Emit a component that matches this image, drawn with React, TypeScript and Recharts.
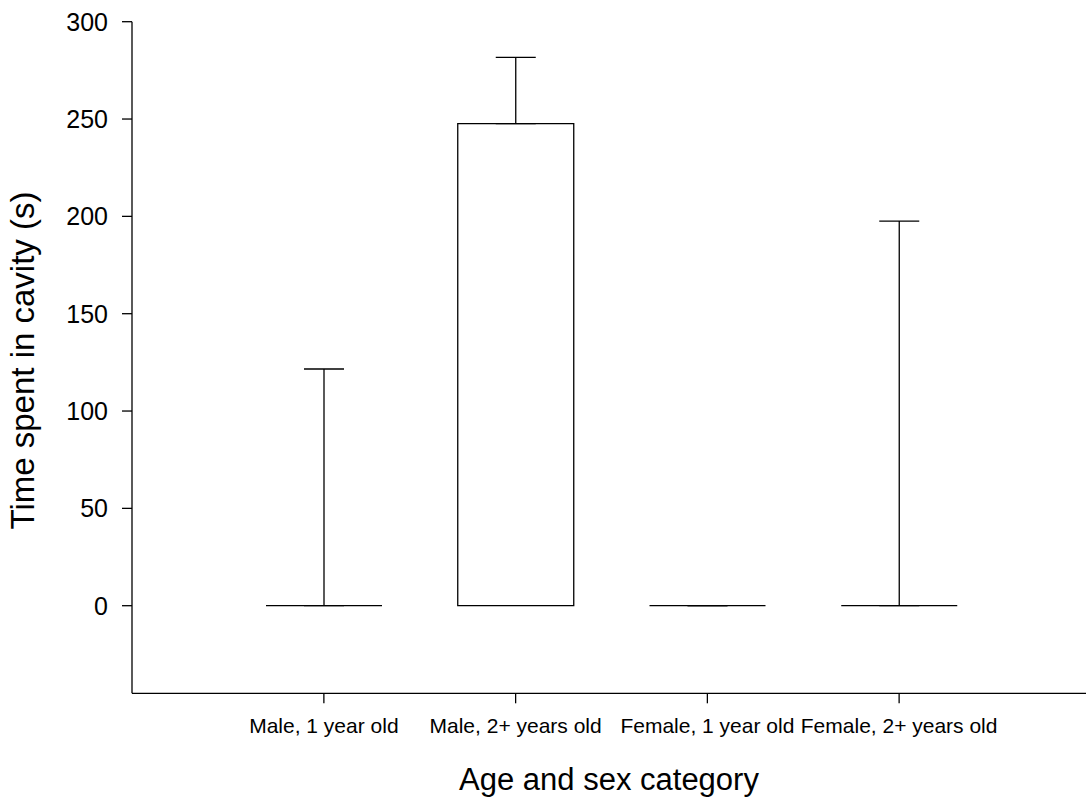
import React from 'react';
import { BarChart, Bar, XAxis, YAxis, ErrorBar } from 'recharts';

const categories = ['Male, 1 year old', 'Male, 2+ years old', 'Female, 1 year old', 'Female, 2+ years old'];
const means = [0, 247.6, 0, 0];
const upperErrors = [121.6, 34.1, 0, 197.6];
const yTicks = [0, 50, 100, 150, 200, 250, 300];

const data = categories.map((c, i) => ({ name: c, value: means[i], err: [0, upperErrors[i]] }));

const FONT = '"Liberation Sans", Arial, sans-serif';

const BarShape = (props: any) => {
  const { x, y, width, height } = props;
  const d = `M${x},${y + height} L${x},${y} L${x + width},${y} L${x + width},${y + height} Z`;
  return <path d={d} fill="#ffffff" stroke="#000000" strokeWidth={1.3} />;
};

export default function App() {
  return (
    <div style={{ width: 1086, height: 800, background: '#fff' }}>
      <style>{`body{margin:0;}`}</style>
      <BarChart
        width={1086}
        height={800}
        data={data}
        margin={{ top: 21.7, right: 0, left: 0, bottom: 0 }}
        barSize={116}
      >
        <XAxis
          dataKey="name"
          height={106.7}
          padding={{ left: 96, right: 91 }}
          tickSize={10}
          tickMargin={15}
          axisLine={{ stroke: '#000', strokeWidth: 1.3 }}
          tickLine={{ stroke: '#000', strokeWidth: 1.3 }}
          tick={{ fill: '#000', fontSize: 21, fontFamily: FONT }}
          interval={0}
          label={{ value: 'Age and sex category', position: 'insideBottom', offset: 10, style: { fill: '#000', fontSize: 31, fontFamily: FONT } }}
        />
        <YAxis
          width={132}
          domain={[-45, 300]}
          ticks={yTicks}
          type="number"
          allowDataOverflow
          tickSize={10}
          tickMargin={14}
          axisLine={{ stroke: '#000', strokeWidth: 1.3 }}
          tickLine={{ stroke: '#000', strokeWidth: 1.3 }}
          tick={{ fill: '#000', fontSize: 25, fontFamily: FONT }}
          label={{ value: 'Time spent in cavity (s)', angle: -90, position: 'insideLeft', offset: 22, dy: 3, style: { fill: '#000', fontSize: 33, fontFamily: FONT, textAnchor: 'middle' } }}
        />
        <Bar dataKey="value" shape={BarShape} isAnimationActive={false}>
          <ErrorBar dataKey="err" direction="y" width={20} stroke="#000" strokeWidth={1.3} />
        </Bar>
      </BarChart>
    </div>
  );
}
